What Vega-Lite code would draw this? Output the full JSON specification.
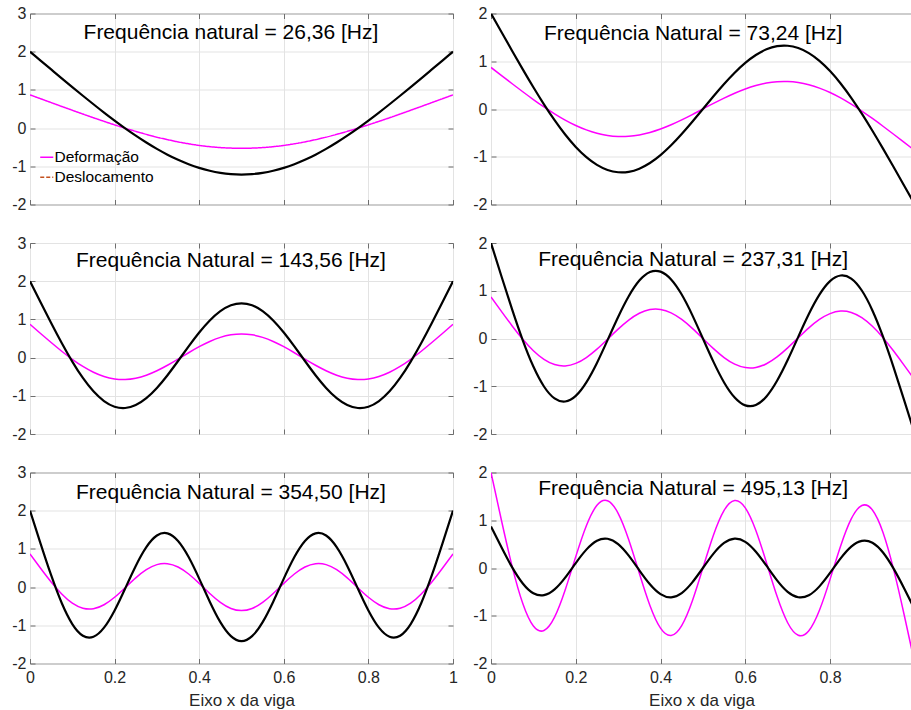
{
"$schema": "https://vega.github.io/schema/vega-lite/v6.json",
"background": "white",
"padding": {"left": 11, "top": 4.5, "right": 0, "bottom": 0},
"autosize": {"type": "pad"},
"bounds": "flush",
"spacing": {"row": 38.5, "column": 38},
"columns": 2,
"resolve": {"scale": {"color": "independent", "strokeDash": "independent"}},
"data": {"values": [
{"p":1,"x":0,"d":0.87,"u":2},{"p":1,"x":0.025,"d":0.769,"u":1.768},{"p":1,"x":0.05,"d":0.668,"u":1.536},{"p":1,"x":0.075,"d":0.567,"u":1.304},{"p":1,"x":0.1,"d":0.467,"u":1.074},{"p":1,"x":0.125,"d":0.368,"u":0.847},{"p":1,"x":0.15,"d":0.271,"u":0.624},{"p":1,"x":0.175,"d":0.177,"u":0.406},{"p":1,"x":0.2,"d":0.085,"u":0.196},{"p":1,"x":0.225,"d":-0.003,"u":-0.007},{"p":1,"x":0.25,"d":-0.086,"u":-0.197},{"p":1,"x":0.275,"d":-0.164,"u":-0.377},{"p":1,"x":0.3,"d":-0.237,"u":-0.544},{"p":1,"x":0.325,"d":-0.302,"u":-0.695},{"p":1,"x":0.35,"d":-0.361,"u":-0.829},{"p":1,"x":0.375,"d":-0.411,"u":-0.944},{"p":1,"x":0.4,"d":-0.453,"u":-1.041},{"p":1,"x":0.425,"d":-0.486,"u":-1.117},{"p":1,"x":0.45,"d":-0.51,"u":-1.172},{"p":1,"x":0.475,"d":-0.524,"u":-1.205},{"p":1,"x":0.5,"d":-0.529,"u":-1.216},{"p":1,"x":0.525,"d":-0.524,"u":-1.205},{"p":1,"x":0.55,"d":-0.51,"u":-1.172},{"p":1,"x":0.575,"d":-0.486,"u":-1.117},{"p":1,"x":0.6,"d":-0.453,"u":-1.041},{"p":1,"x":0.625,"d":-0.411,"u":-0.944},{"p":1,"x":0.65,"d":-0.361,"u":-0.829},{"p":1,"x":0.675,"d":-0.302,"u":-0.695},{"p":1,"x":0.7,"d":-0.237,"u":-0.544},{"p":1,"x":0.725,"d":-0.164,"u":-0.377},{"p":1,"x":0.75,"d":-0.086,"u":-0.197},{"p":1,"x":0.775,"d":-0.003,"u":-0.007},{"p":1,"x":0.8,"d":0.085,"u":0.196},{"p":1,"x":0.825,"d":0.177,"u":0.406},{"p":1,"x":0.85,"d":0.271,"u":0.624},{"p":1,"x":0.875,"d":0.368,"u":0.847},{"p":1,"x":0.9,"d":0.467,"u":1.074},{"p":1,"x":0.925,"d":0.567,"u":1.304},{"p":1,"x":0.95,"d":0.668,"u":1.536},{"p":1,"x":0.975,"d":0.769,"u":1.768},{"p":1,"x":1,"d":0.87,"u":2},
{"p":2,"x":0,"d":0.87,"u":2},{"p":2,"x":0.025,"d":0.699,"u":1.607},{"p":2,"x":0.05,"d":0.529,"u":1.216},{"p":2,"x":0.075,"d":0.361,"u":0.83},{"p":2,"x":0.1,"d":0.198,"u":0.455},{"p":2,"x":0.125,"d":0.042,"u":0.097},{"p":2,"x":0.15,"d":-0.102,"u":-0.235},{"p":2,"x":0.175,"d":-0.233,"u":-0.535},{"p":2,"x":0.2,"d":-0.346,"u":-0.795},{"p":2,"x":0.225,"d":-0.438,"u":-1.008},{"p":2,"x":0.25,"d":-0.509,"u":-1.17},{"p":2,"x":0.275,"d":-0.555,"u":-1.276},{"p":2,"x":0.3,"d":-0.576,"u":-1.324},{"p":2,"x":0.325,"d":-0.572,"u":-1.315},{"p":2,"x":0.35,"d":-0.543,"u":-1.249},{"p":2,"x":0.375,"d":-0.492,"u":-1.131},{"p":2,"x":0.4,"d":-0.42,"u":-0.966},{"p":2,"x":0.425,"d":-0.331,"u":-0.761},{"p":2,"x":0.45,"d":-0.228,"u":-0.525},{"p":2,"x":0.475,"d":-0.117,"u":-0.268},{"p":2,"x":0.5,"d":0,"u":0},{"p":2,"x":0.525,"d":0.117,"u":0.268},{"p":2,"x":0.55,"d":0.228,"u":0.525},{"p":2,"x":0.575,"d":0.331,"u":0.761},{"p":2,"x":0.6,"d":0.42,"u":0.966},{"p":2,"x":0.625,"d":0.492,"u":1.131},{"p":2,"x":0.65,"d":0.543,"u":1.249},{"p":2,"x":0.675,"d":0.572,"u":1.315},{"p":2,"x":0.7,"d":0.576,"u":1.324},{"p":2,"x":0.725,"d":0.555,"u":1.276},{"p":2,"x":0.75,"d":0.509,"u":1.17},{"p":2,"x":0.775,"d":0.438,"u":1.008},{"p":2,"x":0.8,"d":0.346,"u":0.795},{"p":2,"x":0.825,"d":0.233,"u":0.535},{"p":2,"x":0.85,"d":0.102,"u":0.235},{"p":2,"x":0.875,"d":-0.042,"u":-0.097},{"p":2,"x":0.9,"d":-0.198,"u":-0.455},{"p":2,"x":0.925,"d":-0.361,"u":-0.83},{"p":2,"x":0.95,"d":-0.529,"u":-1.216},{"p":2,"x":0.975,"d":-0.699,"u":-1.607},{"p":2,"x":1,"d":-0.87,"u":-2},
{"p":3,"x":0,"d":0.87,"u":2},{"p":3,"x":0.025,"d":0.631,"u":1.451},{"p":3,"x":0.05,"d":0.395,"u":0.907},{"p":3,"x":0.075,"d":0.167,"u":0.383},{"p":3,"x":0.1,"d":-0.045,"u":-0.104},{"p":3,"x":0.125,"d":-0.232,"u":-0.533},{"p":3,"x":0.15,"d":-0.384,"u":-0.883},{"p":3,"x":0.175,"d":-0.495,"u":-1.138},{"p":3,"x":0.2,"d":-0.559,"u":-1.286},{"p":3,"x":0.225,"d":-0.574,"u":-1.32},{"p":3,"x":0.25,"d":-0.54,"u":-1.242},{"p":3,"x":0.275,"d":-0.462,"u":-1.062},{"p":3,"x":0.3,"d":-0.345,"u":-0.794},{"p":3,"x":0.325,"d":-0.201,"u":-0.461},{"p":3,"x":0.35,"d":-0.039,"u":-0.089},{"p":3,"x":0.375,"d":0.127,"u":0.293},{"p":3,"x":0.4,"d":0.285,"u":0.656},{"p":3,"x":0.425,"d":0.422,"u":0.971},{"p":3,"x":0.45,"d":0.529,"u":1.215},{"p":3,"x":0.475,"d":0.596,"u":1.37},{"p":3,"x":0.5,"d":0.619,"u":1.422},{"p":3,"x":0.525,"d":0.596,"u":1.37},{"p":3,"x":0.55,"d":0.529,"u":1.215},{"p":3,"x":0.575,"d":0.422,"u":0.971},{"p":3,"x":0.6,"d":0.285,"u":0.656},{"p":3,"x":0.625,"d":0.127,"u":0.293},{"p":3,"x":0.65,"d":-0.039,"u":-0.089},{"p":3,"x":0.675,"d":-0.201,"u":-0.461},{"p":3,"x":0.7,"d":-0.345,"u":-0.794},{"p":3,"x":0.725,"d":-0.462,"u":-1.062},{"p":3,"x":0.75,"d":-0.54,"u":-1.242},{"p":3,"x":0.775,"d":-0.574,"u":-1.32},{"p":3,"x":0.8,"d":-0.559,"u":-1.286},{"p":3,"x":0.825,"d":-0.495,"u":-1.138},{"p":3,"x":0.85,"d":-0.384,"u":-0.883},{"p":3,"x":0.875,"d":-0.232,"u":-0.533},{"p":3,"x":0.9,"d":-0.045,"u":-0.104},{"p":3,"x":0.925,"d":0.167,"u":0.383},{"p":3,"x":0.95,"d":0.395,"u":0.907},{"p":3,"x":0.975,"d":0.631,"u":1.451},{"p":3,"x":1,"d":0.87,"u":2},
{"p":4,"x":0,"d":0.87,"u":2},{"p":4,"x":0.025,"d":0.563,"u":1.294},{"p":4,"x":0.05,"d":0.263,"u":0.604},{"p":4,"x":0.075,"d":-0.017,"u":-0.038},{"p":4,"x":0.1,"d":-0.256,"u":-0.588},{"p":4,"x":0.125,"d":-0.437,"u":-1.005},{"p":4,"x":0.15,"d":-0.546,"u":-1.255},{"p":4,"x":0.175,"d":-0.574,"u":-1.32},{"p":4,"x":0.2,"d":-0.522,"u":-1.201},{"p":4,"x":0.225,"d":-0.399,"u":-0.918},{"p":4,"x":0.25,"d":-0.223,"u":-0.512},{"p":4,"x":0.275,"d":-0.015,"u":-0.035},{"p":4,"x":0.3,"d":0.196,"u":0.451},{"p":4,"x":0.325,"d":0.385,"u":0.885},{"p":4,"x":0.35,"d":0.528,"u":1.213},{"p":4,"x":0.375,"d":0.606,"u":1.392},{"p":4,"x":0.4,"d":0.609,"u":1.4},{"p":4,"x":0.425,"d":0.538,"u":1.236},{"p":4,"x":0.45,"d":0.4,"u":0.92},{"p":4,"x":0.475,"d":0.213,"u":0.49},{"p":4,"x":0.5,"d":0,"u":0},{"p":4,"x":0.525,"d":-0.213,"u":-0.49},{"p":4,"x":0.55,"d":-0.4,"u":-0.92},{"p":4,"x":0.575,"d":-0.538,"u":-1.236},{"p":4,"x":0.6,"d":-0.609,"u":-1.4},{"p":4,"x":0.625,"d":-0.606,"u":-1.392},{"p":4,"x":0.65,"d":-0.528,"u":-1.213},{"p":4,"x":0.675,"d":-0.385,"u":-0.885},{"p":4,"x":0.7,"d":-0.196,"u":-0.451},{"p":4,"x":0.725,"d":0.015,"u":0.035},{"p":4,"x":0.75,"d":0.223,"u":0.512},{"p":4,"x":0.775,"d":0.399,"u":0.918},{"p":4,"x":0.8,"d":0.522,"u":1.201},{"p":4,"x":0.825,"d":0.574,"u":1.32},{"p":4,"x":0.85,"d":0.546,"u":1.255},{"p":4,"x":0.875,"d":0.437,"u":1.005},{"p":4,"x":0.9,"d":0.256,"u":0.588},{"p":4,"x":0.925,"d":0.017,"u":0.038},{"p":4,"x":0.95,"d":-0.263,"u":-0.604},{"p":4,"x":0.975,"d":-0.563,"u":-1.294},{"p":4,"x":1,"d":-0.87,"u":-2},
{"p":5,"x":0,"d":0.87,"u":2},{"p":5,"x":0.025,"d":0.495,"u":1.139},{"p":5,"x":0.05,"d":0.135,"u":0.311},{"p":5,"x":0.075,"d":-0.181,"u":-0.417},{"p":5,"x":0.1,"d":-0.421,"u":-0.967},{"p":5,"x":0.125,"d":-0.553,"u":-1.272},{"p":5,"x":0.15,"d":-0.566,"u":-1.3},{"p":5,"x":0.175,"d":-0.462,"u":-1.062},{"p":5,"x":0.2,"d":-0.266,"u":-0.611},{"p":5,"x":0.225,"d":-0.015,"u":-0.035},{"p":5,"x":0.25,"d":0.241,"u":0.555},{"p":5,"x":0.275,"d":0.455,"u":1.047},{"p":5,"x":0.3,"d":0.588,"u":1.351},{"p":5,"x":0.325,"d":0.612,"u":1.408},{"p":5,"x":0.35,"d":0.525,"u":1.208},{"p":5,"x":0.375,"d":0.342,"u":0.787},{"p":5,"x":0.4,"d":0.097,"u":0.222},{"p":5,"x":0.425,"d":-0.167,"u":-0.383},{"p":5,"x":0.45,"d":-0.399,"u":-0.918},{"p":5,"x":0.475,"d":-0.559,"u":-1.284},{"p":5,"x":0.5,"d":-0.615,"u":-1.414},{"p":5,"x":0.525,"d":-0.559,"u":-1.284},{"p":5,"x":0.55,"d":-0.399,"u":-0.918},{"p":5,"x":0.575,"d":-0.167,"u":-0.383},{"p":5,"x":0.6,"d":0.097,"u":0.222},{"p":5,"x":0.625,"d":0.342,"u":0.787},{"p":5,"x":0.65,"d":0.525,"u":1.208},{"p":5,"x":0.675,"d":0.612,"u":1.408},{"p":5,"x":0.7,"d":0.588,"u":1.351},{"p":5,"x":0.725,"d":0.455,"u":1.047},{"p":5,"x":0.75,"d":0.241,"u":0.555},{"p":5,"x":0.775,"d":-0.015,"u":-0.035},{"p":5,"x":0.8,"d":-0.266,"u":-0.611},{"p":5,"x":0.825,"d":-0.462,"u":-1.062},{"p":5,"x":0.85,"d":-0.566,"u":-1.3},{"p":5,"x":0.875,"d":-0.553,"u":-1.272},{"p":5,"x":0.9,"d":-0.421,"u":-0.967},{"p":5,"x":0.925,"d":-0.181,"u":-0.417},{"p":5,"x":0.95,"d":0.135,"u":0.311},{"p":5,"x":0.975,"d":0.495,"u":1.139},{"p":5,"x":1,"d":0.87,"u":2},
{"p":6,"x":0,"d":2,"u":0.87},{"p":6,"x":0.025,"d":0.984,"u":0.428},{"p":6,"x":0.05,"d":0.03,"u":0.013},{"p":6,"x":0.075,"d":-0.744,"u":-0.324},{"p":6,"x":0.1,"d":-1.215,"u":-0.529},{"p":6,"x":0.125,"d":-1.309,"u":-0.569},{"p":6,"x":0.15,"d":-1.029,"u":-0.448},{"p":6,"x":0.175,"d":-0.461,"u":-0.201},{"p":6,"x":0.2,"d":0.238,"u":0.104},{"p":6,"x":0.225,"d":0.885,"u":0.385},{"p":6,"x":0.25,"d":1.313,"u":0.571},{"p":6,"x":0.275,"d":1.408,"u":0.612},{"p":6,"x":0.3,"d":1.146,"u":0.499},{"p":6,"x":0.325,"d":0.593,"u":0.258},{"p":6,"x":0.35,"d":-0.11,"u":-0.048},{"p":6,"x":0.375,"d":-0.785,"u":-0.341},{"p":6,"x":0.4,"d":-1.26,"u":-0.548},{"p":6,"x":0.425,"d":-1.413,"u":-0.615},{"p":6,"x":0.45,"d":-1.206,"u":-0.525},{"p":6,"x":0.475,"d":-0.691,"u":-0.301},{"p":6,"x":0.5,"d":0,"u":0},{"p":6,"x":0.525,"d":0.691,"u":0.301},{"p":6,"x":0.55,"d":1.206,"u":0.525},{"p":6,"x":0.575,"d":1.413,"u":0.615},{"p":6,"x":0.6,"d":1.26,"u":0.548},{"p":6,"x":0.625,"d":0.785,"u":0.341},{"p":6,"x":0.65,"d":0.11,"u":0.048},{"p":6,"x":0.675,"d":-0.593,"u":-0.258},{"p":6,"x":0.7,"d":-1.146,"u":-0.499},{"p":6,"x":0.725,"d":-1.408,"u":-0.612},{"p":6,"x":0.75,"d":-1.313,"u":-0.571},{"p":6,"x":0.775,"d":-0.885,"u":-0.385},{"p":6,"x":0.8,"d":-0.238,"u":-0.104},{"p":6,"x":0.825,"d":0.461,"u":0.201},{"p":6,"x":0.85,"d":1.029,"u":0.448},{"p":6,"x":0.875,"d":1.309,"u":0.569},{"p":6,"x":0.9,"d":1.215,"u":0.529},{"p":6,"x":0.925,"d":0.744,"u":0.324},{"p":6,"x":0.95,"d":-0.03,"u":-0.013},{"p":6,"x":0.975,"d":-0.984,"u":-0.428},{"p":6,"x":1,"d":-2,"u":-0.87}
]},
"concat": [
{"width": 423, "height": 191, "resolve": {"axis": {"x": "independent", "y": "independent"}}, "layer": [
 {"transform": [{"filter": "datum.p == 1"}, {"fold": ["d"], "as": ["s", "v"]}],
  "mark": {"type": "line", "interpolate": "natural", "strokeWidth": 1.5, "clip": true},
  "encoding": {
   "x": {"field": "x", "type": "quantitative", "scale": {"domain": [0, 1], "nice": false, "zero": false}, "axis": {"values": [0, 0.2, 0.4, 0.6, 0.8, 1], "tickCount": 6, "format": "~g", "labels": false, "title": null}},
   "y": {"field": "v", "type": "quantitative", "scale": {"domain": [-2, 3], "nice": false, "zero": false}, "axis": {"values": [-2, -1, 0, 1, 2, 3], "tickCount": 6, "labelExpr": "'' + datum.value", "title": null}},
   "color": {"field": "s", "type": "nominal", "scale": {"domain": ["d", "u"], "range": ["#FF00FF", "#C4501E"]}, "legend": {"title": null, "orient": "none", "legendX": 9, "legendY": 136, "labelExpr": "datum.value == 'd' ? 'Deformação' : 'Deslocamento'", "symbolType": "stroke", "symbolSize": 170, "symbolStrokeWidth": 1.5, "labelFontSize": 15.5, "labelFont": "Liberation Sans", "labelColor": "#000000", "labelOffset": 0, "rowPadding": 3, "padding": 0}},
   "strokeDash": {"field": "s", "type": "nominal", "scale": {"domain": ["d", "u"], "range": [[1, 0], [4, 2]]}, "legend": {"title": null, "orient": "none", "legendX": 9, "legendY": 136, "labelExpr": "datum.value == 'd' ? 'Deformação' : 'Deslocamento'", "symbolType": "stroke", "symbolSize": 170, "symbolStrokeWidth": 1.5, "labelFontSize": 15.5, "labelFont": "Liberation Sans", "labelColor": "#000000", "labelOffset": 0, "rowPadding": 3, "padding": 0}}
  }},
 {"transform": [{"filter": "datum.p == 1"}],
  "mark": {"type": "line", "interpolate": "natural", "strokeWidth": 2.2, "clip": true, "color": "#000000"},
  "encoding": {"x": {"field": "x", "type": "quantitative", "axis": {"orient": "top", "values": [0, 0.2, 0.4, 0.6, 0.8, 1], "tickCount": 6, "labels": false, "grid": false, "title": null}}, "y": {"field": "u", "type": "quantitative", "axis": {"orient": "right", "values": [-2, -1, 0, 1, 2, 3], "tickCount": 6, "labels": false, "grid": false, "title": null}}}},
 {"data": {"values": [{}]},
  "mark": {"type": "text", "fontSize": 21, "font": "Liberation Sans", "color": "#000000", "align": "center", "baseline": "middle"},
  "encoding": {"x": {"datum": 0.475, "type": "quantitative", "axis": null}, "y": {"datum": 2.48, "type": "quantitative", "axis": null}, "text": {"value": "Frequência natural = 26,36 [Hz]"}}}
]},
{"width": 421, "height": 191, "resolve": {"axis": {"x": "independent", "y": "independent"}}, "layer": [
 {"transform": [{"filter": "datum.p == 2"}],
  "mark": {"type": "line", "interpolate": "natural", "strokeWidth": 1.5, "clip": true, "color": "#FF00FF"},
  "encoding": {
   "x": {"field": "x", "type": "quantitative", "scale": {"domain": [0, 0.9934], "nice": false, "zero": false}, "axis": {"values": [0, 0.2, 0.4, 0.6, 0.8], "format": "~g", "labels": false, "title": null}},
   "y": {"field": "d", "type": "quantitative", "scale": {"domain": [-2, 2], "nice": false, "zero": false}, "axis": {"values": [-2, -1, 0, 1, 2], "tickCount": 6, "labelExpr": "'' + datum.value", "title": null}}
  }},
 {"transform": [{"filter": "datum.p == 2"}],
  "mark": {"type": "line", "interpolate": "natural", "strokeWidth": 2.2, "clip": true, "color": "#000000"},
  "encoding": {"x": {"field": "x", "type": "quantitative", "axis": {"orient": "top", "values": [0, 0.2, 0.4, 0.6, 0.8], "labels": false, "grid": false, "title": null}}, "y": {"field": "u", "type": "quantitative", "axis": null}}},
 {"data": {"values": [{}]},
  "mark": {"type": "text", "fontSize": 21, "font": "Liberation Sans", "color": "#000000", "align": "center", "baseline": "middle"},
  "encoding": {"x": {"datum": 0.477, "type": "quantitative", "axis": null}, "y": {"datum": 1.565, "type": "quantitative", "axis": null}, "text": {"value": "Frequência Natural = 73,24 [Hz]"}}}
]},
{"width": 423, "height": 191, "resolve": {"axis": {"x": "independent", "y": "independent"}}, "layer": [
 {"transform": [{"filter": "datum.p == 3"}],
  "mark": {"type": "line", "interpolate": "natural", "strokeWidth": 1.5, "clip": true, "color": "#FF00FF"},
  "encoding": {
   "x": {"field": "x", "type": "quantitative", "scale": {"domain": [0, 1], "nice": false, "zero": false}, "axis": {"values": [0, 0.2, 0.4, 0.6, 0.8, 1], "tickCount": 6, "format": "~g", "labels": false, "title": null}},
   "y": {"field": "d", "type": "quantitative", "scale": {"domain": [-2, 3], "nice": false, "zero": false}, "axis": {"values": [-2, -1, 0, 1, 2, 3], "tickCount": 6, "labelExpr": "'' + datum.value", "title": null}}
  }},
 {"transform": [{"filter": "datum.p == 3"}],
  "mark": {"type": "line", "interpolate": "natural", "strokeWidth": 2.2, "clip": true, "color": "#000000"},
  "encoding": {"x": {"field": "x", "type": "quantitative", "axis": {"orient": "top", "values": [0, 0.2, 0.4, 0.6, 0.8, 1], "tickCount": 6, "labels": false, "grid": false, "title": null}}, "y": {"field": "u", "type": "quantitative", "axis": {"orient": "right", "values": [-2, -1, 0, 1, 2, 3], "tickCount": 6, "labels": false, "grid": false, "title": null}}}},
 {"data": {"values": [{}]},
  "mark": {"type": "text", "fontSize": 21, "font": "Liberation Sans", "color": "#000000", "align": "center", "baseline": "middle"},
  "encoding": {"x": {"datum": 0.475, "type": "quantitative", "axis": null}, "y": {"datum": 2.52, "type": "quantitative", "axis": null}, "text": {"value": "Frequência Natural = 143,56 [Hz]"}}}
]},
{"width": 421, "height": 191, "resolve": {"axis": {"x": "independent", "y": "independent"}}, "layer": [
 {"transform": [{"filter": "datum.p == 4"}],
  "mark": {"type": "line", "interpolate": "natural", "strokeWidth": 1.5, "clip": true, "color": "#FF00FF"},
  "encoding": {
   "x": {"field": "x", "type": "quantitative", "scale": {"domain": [0, 0.9934], "nice": false, "zero": false}, "axis": {"values": [0, 0.2, 0.4, 0.6, 0.8], "format": "~g", "labels": false, "title": null}},
   "y": {"field": "d", "type": "quantitative", "scale": {"domain": [-2, 2], "nice": false, "zero": false}, "axis": {"values": [-2, -1, 0, 1, 2], "tickCount": 6, "labelExpr": "'' + datum.value", "title": null}}
  }},
 {"transform": [{"filter": "datum.p == 4"}],
  "mark": {"type": "line", "interpolate": "natural", "strokeWidth": 2.2, "clip": true, "color": "#000000"},
  "encoding": {"x": {"field": "x", "type": "quantitative", "axis": {"orient": "top", "values": [0, 0.2, 0.4, 0.6, 0.8], "labels": false, "grid": false, "title": null}}, "y": {"field": "u", "type": "quantitative", "axis": null}}},
 {"data": {"values": [{}]},
  "mark": {"type": "text", "fontSize": 21, "font": "Liberation Sans", "color": "#000000", "align": "center", "baseline": "middle"},
  "encoding": {"x": {"datum": 0.477, "type": "quantitative", "axis": null}, "y": {"datum": 1.64, "type": "quantitative", "axis": null}, "text": {"value": "Frequência Natural = 237,31 [Hz]"}}}
]},
{"width": 423, "height": 191, "resolve": {"axis": {"x": "independent", "y": "independent"}}, "layer": [
 {"transform": [{"filter": "datum.p == 5"}],
  "mark": {"type": "line", "interpolate": "natural", "strokeWidth": 1.5, "clip": true, "color": "#FF00FF"},
  "encoding": {
   "x": {"field": "x", "type": "quantitative", "scale": {"domain": [0, 1], "nice": false, "zero": false}, "axis": {"values": [0, 0.2, 0.4, 0.6, 0.8, 1], "tickCount": 6, "format": "~g", "title": "Eixo x da viga"}},
   "y": {"field": "d", "type": "quantitative", "scale": {"domain": [-2, 3], "nice": false, "zero": false}, "axis": {"values": [-2, -1, 0, 1, 2, 3], "tickCount": 6, "labelExpr": "'' + datum.value", "title": null}}
  }},
 {"transform": [{"filter": "datum.p == 5"}],
  "mark": {"type": "line", "interpolate": "natural", "strokeWidth": 2.2, "clip": true, "color": "#000000"},
  "encoding": {"x": {"field": "x", "type": "quantitative", "axis": {"orient": "top", "values": [0, 0.2, 0.4, 0.6, 0.8, 1], "tickCount": 6, "labels": false, "grid": false, "title": null}}, "y": {"field": "u", "type": "quantitative", "axis": {"orient": "right", "values": [-2, -1, 0, 1, 2, 3], "tickCount": 6, "labels": false, "grid": false, "title": null}}}},
 {"data": {"values": [{}]},
  "mark": {"type": "text", "fontSize": 21, "font": "Liberation Sans", "color": "#000000", "align": "center", "baseline": "middle"},
  "encoding": {"x": {"datum": 0.475, "type": "quantitative", "axis": null}, "y": {"datum": 2.46, "type": "quantitative", "axis": null}, "text": {"value": "Frequência Natural = 354,50 [Hz]"}}}
]},
{"width": 421, "height": 191, "resolve": {"axis": {"x": "independent", "y": "independent"}}, "layer": [
 {"transform": [{"filter": "datum.p == 6"}],
  "mark": {"type": "line", "interpolate": "natural", "strokeWidth": 1.5, "clip": true, "color": "#FF00FF"},
  "encoding": {
   "x": {"field": "x", "type": "quantitative", "scale": {"domain": [0, 0.9934], "nice": false, "zero": false}, "axis": {"values": [0, 0.2, 0.4, 0.6, 0.8], "format": "~g", "title": "Eixo x da viga"}},
   "y": {"field": "d", "type": "quantitative", "scale": {"domain": [-2, 2], "nice": false, "zero": false}, "axis": {"values": [-2, -1, 0, 1, 2], "tickCount": 6, "labelExpr": "'' + datum.value", "title": null}}
  }},
 {"transform": [{"filter": "datum.p == 6"}],
  "mark": {"type": "line", "interpolate": "natural", "strokeWidth": 2.2, "clip": true, "color": "#000000"},
  "encoding": {"x": {"field": "x", "type": "quantitative", "axis": {"orient": "top", "values": [0, 0.2, 0.4, 0.6, 0.8], "labels": false, "grid": false, "title": null}}, "y": {"field": "u", "type": "quantitative", "axis": null}}},
 {"data": {"values": [{}]},
  "mark": {"type": "text", "fontSize": 21, "font": "Liberation Sans", "color": "#000000", "align": "center", "baseline": "middle"},
  "encoding": {"x": {"datum": 0.477, "type": "quantitative", "axis": null}, "y": {"datum": 1.66, "type": "quantitative", "axis": null}, "text": {"value": "Frequência Natural = 495,13 [Hz]"}}}
]}
],
"config": {
 "font": "Liberation Sans",
 "view": {"stroke": "#6e6e6e", "strokeWidth": 1},
 "axis": {"grid": true, "gridColor": "#e3e3e3", "gridWidth": 1, "gridOpacity": 1, "domain": false, "tickSize": -5, "tickColor": "#6e6e6e", "tickWidth": 1, "labelFont": "Liberation Sans", "labelFontSize": 16, "labelColor": "#262626", "labelFlush": false, "labelOverlap": false, "titleFont": "Liberation Sans", "titleFontSize": 17, "titleFontWeight": "normal", "titleColor": "#262626"},
 "axisX": {"labelPadding": 11, "titlePadding": 7},
 "axisY": {"labelPadding": 9}
}
}
